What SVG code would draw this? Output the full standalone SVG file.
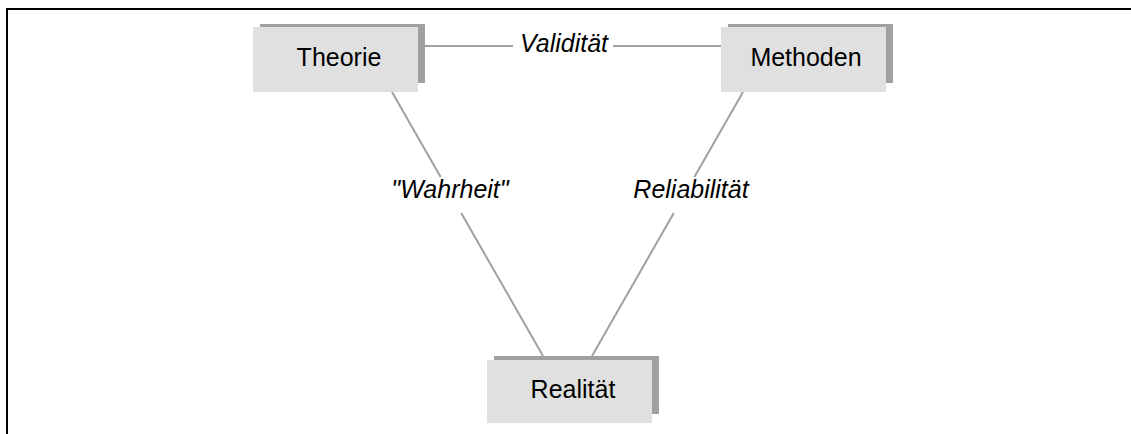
<svg xmlns="http://www.w3.org/2000/svg" width="1131" height="434" viewBox="0 0 1131 434">
<style>
.shadow{fill:#a0a0a0}
.box{fill:#e0e0e0}
.lbl{font-family:"Liberation Sans",Arial,sans-serif;font-size:25px;fill:#000;text-anchor:middle}
.edge{font-family:"Liberation Sans",Arial,sans-serif;font-size:25px;font-style:italic;fill:#000;text-anchor:middle}
.conn{stroke:#a0a0a0;stroke-width:2;fill:none}
</style>
<rect width="1131" height="434" fill="#fff"/>
<path d="M7,434 V9 H1131" fill="none" stroke="#000" stroke-width="2"/>
<g id="connectors">
<line class="conn" x1="425" y1="46" x2="513" y2="46"/>
<line class="conn" x1="613" y1="46" x2="721" y2="46"/>
<line class="conn" x1="392" y1="92" x2="440.6" y2="177"/>
<line class="conn" x1="461.2" y1="213" x2="543" y2="356"/>
<line class="conn" x1="743" y1="92" x2="694.4" y2="177"/>
<line class="conn" x1="673.8" y1="213" x2="592" y2="356"/>
<text class="edge" x="564" y="52">Validität</text>
<text class="edge" x="450" y="198">"Wahrheit"</text>
<text class="edge" x="691" y="198">Reliabilität</text>
</g>
<g id="theorie">
<rect class="shadow" x="260" y="24" width="165" height="59"/>
<rect class="box" x="253" y="27" width="165" height="65"/>
<text class="lbl" x="339" y="66">Theorie</text>
</g>
<g id="methoden">
<rect class="shadow" x="728" y="24" width="165" height="59"/>
<rect class="box" x="721" y="27" width="165" height="65"/>
<text class="lbl" x="806" y="66">Methoden</text>
</g>
<g id="realitaet">
<rect class="shadow" x="494" y="356" width="165" height="58"/>
<rect class="box" x="487" y="360" width="165" height="63"/>
<text class="lbl" x="573" y="398">Realität</text>
</g>
</svg>
